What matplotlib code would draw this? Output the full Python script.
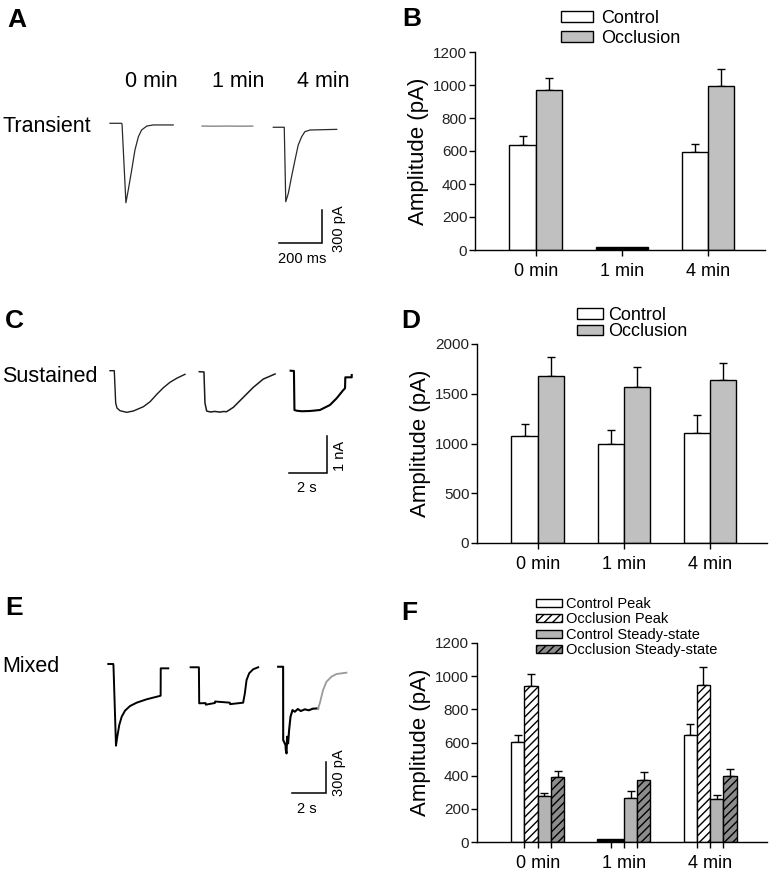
import numpy as np
import matplotlib
matplotlib.use("Agg")
import matplotlib.pyplot as plt

plt.rcParams['font.family'] = ['Liberation Sans', 'DejaVu Sans']
plt.rcParams['hatch.linewidth'] = 1.0

W, H = 770, 877

groups = ["0 min", "1 min", "4 min"]

# B: transient amplitudes (pA)
b_control = [639, 20, 595]
b_control_err = [53, 0, 46]
b_occl = [972, 20, 992]
b_occl_err = [73, 0, 103]

# D: sustained amplitudes (pA)
d_control = [1079, 995, 1106]
d_control_err = [114, 141, 184]
d_occl = [1678, 1564, 1642]
d_occl_err = [191, 201, 167]

# F: mixed amplitudes (pA)
f_ctrl_peak = [603, 18, 647]
f_ctrl_peak_err = [44, 0, 67]
f_occl_peak = [939, 18, 949]
f_occl_peak_err = [76, 0, 106]
f_ctrl_ss = [275, 265, 259]
f_ctrl_ss_err = [20, 40, 26]
f_occl_ss = [390, 376, 400]
f_occl_ss_err = [40, 46, 42]

# example traces: time (ms from trace start), current (pA from baseline)
a0_t = [0, 54, 56, 74, 85, 101, 116, 132, 147, 171, 201, 294]
a0_i = [0, 0, -6, -722, -606, -424, -243, -122, -61, -25, -15, -15]
a1_t = [0, 60, 120, 180, 237]
a1_i = [-25, -26, -25, -26, -25]
a4_t = [0, 51, 58, 70, 85, 101, 116, 132, 147, 171, 295]
a4_i = [-36, -36, -713, -636, -485, -334, -197, -122, -76, -61, -55]

c0_t = [0, 230, 305, 375, 536, 895, 1254, 1790, 2149, 2508, 2862, 3216, 3575, 4020]
c0_i = [0, 0, -880, -1017, -1090, -1134, -1098, -981, -845, -644, -463, -316, -207, -98]
c1_t = [0, 252, 306, 397, 600, 842, 1100, 1300, 1469, 1828, 2364, 2900, 3436, 4063]
c1_i = [-27, -35, -880, -1099, -1125, -1110, -1128, -1112, -1117, -998, -725, -452, -227, -90]
c4_t = [0, 177, 204, 322, 600, 1035, 1300, 1571, 2107, 2466, 2825, 2916, 2932, 3275, 3276]
c4_i = [0, -8, -1071, -1090, -1105, -1098, -1085, -1071, -935, -752, -526, -480, -180, -180, -117]

e0_t = [0, 300, 312, 462, 540, 660, 804, 1002, 1302, 1704, 2304, 2904, 3144, 3150, 3600]
e0_i = [0, 0, -19, -773, -688, -577, -499, -442, -398, -366, -334, -310, -300, -41, -41]
e1_t = [0, 498, 516, 900, 910, 1458, 1470, 2358, 2370, 3156, 3258, 3360, 3516, 3756, 4056]
e1_i = [-31, -31, -372, -370, -385, -369, -355, -366, -380, -366, -277, -152, -88, -50, -31]
e4_t = [0, 300, 305, 444, 462, 504, 540, 600, 660, 744, 864, 1002, 1182, 1362, 1602, 1842, 2082, 2400]
e4_i = [-26, -26, -720, -767, -814, -846, -688, -751, -625, -499, -436, -452, -426, -445, -429, -438, -423, -420]
e4g_t = [2400, 2502, 2700, 2904, 3204, 3504, 4104]
e4g_i = [-420, -372, -246, -168, -120, -95, -82]


fig = plt.figure(figsize=(W / 100, H / 100), dpi=100)


def px_axes(left, top, right, bottom):
    return fig.add_axes([left / W, 1 - bottom / H, (right - left) / W, (bottom - top) / H])


def ftext(x, y, s, **kw):
    fig.text(x / W, 1 - y / H, s, **kw)


def trace_axes(box, x0, y0, ms_px, pa_px):
    left, top, right, bottom = box
    ax = px_axes(left, top, right, bottom)
    ax.set_xlim((left - x0) * ms_px, (right - x0) * ms_px)
    ax.set_ylim(-(bottom - y0) * pa_px, (y0 - top) * pa_px)
    ax.axis('off')
    return ax


def scale_bar(ax, corner, t_len, i_len):
    cx, cy = corner
    ax.plot([cx - t_len, cx, cx], [cy, cy, cy + i_len], color='black', lw=1.1,
            solid_joinstyle='miter')


def bar_panel(box, series, errs, colors, hatches, labels, ymax, ystep, width,
              minor, leg_xy, leg_kw):
    left, top, right, bottom = box
    ax = px_axes(left, top, right, bottom)
    x = np.arange(len(groups))
    n = len(series)
    for k in range(n):
        pos = x + (k - (n - 1) / 2) * width
        vals = np.array(series[k])
        # near-zero bars print as solid black slivers in the original
        fcs = [colors[k] if v > 50 else 'black' for v in vals]
        bars = ax.bar(pos, vals, width, color=fcs, edgecolor='black',
                      linewidth=1.0, hatch=hatches[k], zorder=2)
        bars.set_label(labels[k])
        err = np.array(errs[k])
        m = err > 0
        ax.errorbar(pos[m], vals[m], yerr=[np.zeros(m.sum()), err[m]],
                    fmt='none', ecolor='black', elinewidth=1.0, capsize=2.6,
                    capthick=1.0, zorder=1)
    ax.set_ylim(0, ymax)
    ax.set_xlim(-0.705, 2.66)
    ax.set_yticks(np.arange(0, ymax + 1, ystep))
    ax.set_xticks(x)
    ax.set_xticklabels(groups, fontsize=13)
    if minor:
        ax.set_xticks(np.concatenate([x - width, x + width]), minor=True)
        ax.tick_params(axis='x', which='minor', length=4.5, width=1.0, direction='out')
    ax.tick_params(axis='x', which='major', length=4.5, width=1.0, pad=5)
    ax.tick_params(axis='y', length=4.5, width=1.0, pad=1, labelsize=11,
                   labelcolor='#222222')
    for s in ['top', 'right']:
        ax.spines[s].set_visible(False)
    for s in ['left', 'bottom']:
        ax.spines[s].set_linewidth(1.0)
    ax.set_ylabel("Amplitude (pA)", fontsize=16, labelpad=3)
    # legend handles keep the series colour
    handles = [plt.Rectangle((0, 0), 1, 1, facecolor=colors[k], edgecolor='black',
                             linewidth=1.0, hatch=hatches[k]) for k in range(n)]
    ax.legend(handles, labels, loc='upper left',
              bbox_to_anchor=(leg_xy[0] / W, 1 - leg_xy[1] / H),
              bbox_transform=fig.transFigure, frameon=False, borderpad=0,
              borderaxespad=0, **leg_kw)
    return ax


# panel letters and row labels
for letter, (lx, ly) in zip("ABCDEF", [(7, 27), (402, 26), (5, 328), (401, 328),
                                        (5, 615), (401, 620)]):
    ftext(lx, ly, letter, fontsize=19, fontweight='bold', va='baseline')
ftext(2.5, 132, "Transient", fontsize=15.5, va='baseline')
ftext(2, 381.5, "Sustained", fontsize=15.5, va='baseline')
ftext(2, 672, "Mixed", fontsize=15.5, va='baseline')
for gx, g in zip([151, 238, 323], groups):
    ftext(gx, 87, g, fontsize=15.5, ha='center', va='baseline')

# A
axA = trace_axes((100, 60, 360, 270), 100, 123.3, 200 / 43, 300 / 33)
axA.plot(np.array(a0_t) + 46.5, a0_i, color='#2a2a2a', lw=0.9)
axA.plot(np.array(a1_t) + 474, a1_i, color='#666666', lw=0.8)
axA.plot(np.array(a4_t) + 806, a4_i, color='#2a2a2a', lw=0.9)
scale_bar(axA, (1032.6, -1088), 200, 300)
ftext(302, 263, "200 ms", fontsize=10.5, ha='center', va='baseline')
ftext(343.5, 229, "300 pA", fontsize=10.5, ha='center', va='baseline',
      rotation=90, rotation_mode='anchor')

# C
axC = trace_axes((100, 355, 360, 500), 100, 370.7, 2000 / 37.3, 1000 / 36.7)
axC.plot(np.array(c0_t) + 536, c0_i, color='#1a1a1a', lw=1.0)
axC.plot(np.array(c1_t) + 5322, c1_i, color='#1a1a1a', lw=1.1)
axC.plot(np.array(c4_t) + 10222, c4_i, color='black', lw=1.5)
scale_bar(axC, (12151, -2788), 2000, 1000)
ftext(306.5, 492, "2 s", fontsize=10.5, ha='center', va='baseline')
ftext(343.5, 456, "1 nA", fontsize=10.5, ha='center', va='baseline',
      rotation=90, rotation_mode='anchor')

# E
axE = trace_axes((100, 645, 360, 820), 100, 664, 2000 / 33.3, 300 / 31.7)
axE.plot(np.array(e0_t) + 498, e0_i, color='black', lw=1.4)
axE.plot(np.array(e1_t) + 5442, e1_i, color='black', lw=1.4)
axE.plot(np.array(e4_t) + 10698, e4_i, color='black', lw=1.5)
axE.plot(np.array(e4g_t) + 10698, e4g_i, color='#9a9a9a', lw=1.3)
scale_bar(axE, (13560, -1224), 2000, 300)
ftext(306.5, 813, "2 s", fontsize=10.5, ha='center', va='baseline')
ftext(343.5, 773, "300 pA", fontsize=10.5, ha='center', va='baseline',
      rotation=90, rotation_mode='anchor')

# B
bar_panel((475, 52, 765, 250), [b_control, b_occl], [b_control_err, b_occl_err],
          ['white', '#c0c0c0'], [None, None], ['Control', 'Occlusion'],
          1200, 200, 0.305, False, (561, 10),
          dict(fontsize=13, handlelength=1.78, handleheight=0.55,
               handletextpad=0.45, labelspacing=0.15))

# D
bar_panel((477, 344, 767, 543), [d_control, d_occl], [d_control_err, d_occl_err],
          ['white', '#c0c0c0'], [None, None], ['Control', 'Occlusion'],
          2000, 500, 0.305, False, (577, 307),
          dict(fontsize=13, handlelength=1.45, handleheight=0.5,
               handletextpad=0.28, labelspacing=-0.04))

# F
bar_panel((477, 643, 767, 842),
          [f_ctrl_peak, f_occl_peak, f_ctrl_ss, f_occl_ss],
          [f_ctrl_peak_err, f_occl_peak_err, f_ctrl_ss_err, f_occl_ss_err],
          ['white', 'white', '#b4b4b4', '#8c8c8c'], [None, '////', None, '////'],
          ['Control Peak', 'Occlusion Peak', 'Control Steady-state',
           'Occlusion Steady-state'],
          1200, 200, 0.154, True, (536, 597),
          dict(fontsize=10.5, handlelength=1.8, handleheight=0.5,
               handletextpad=0.28, labelspacing=0.1))

fig.savefig("out.png", dpi=100)
